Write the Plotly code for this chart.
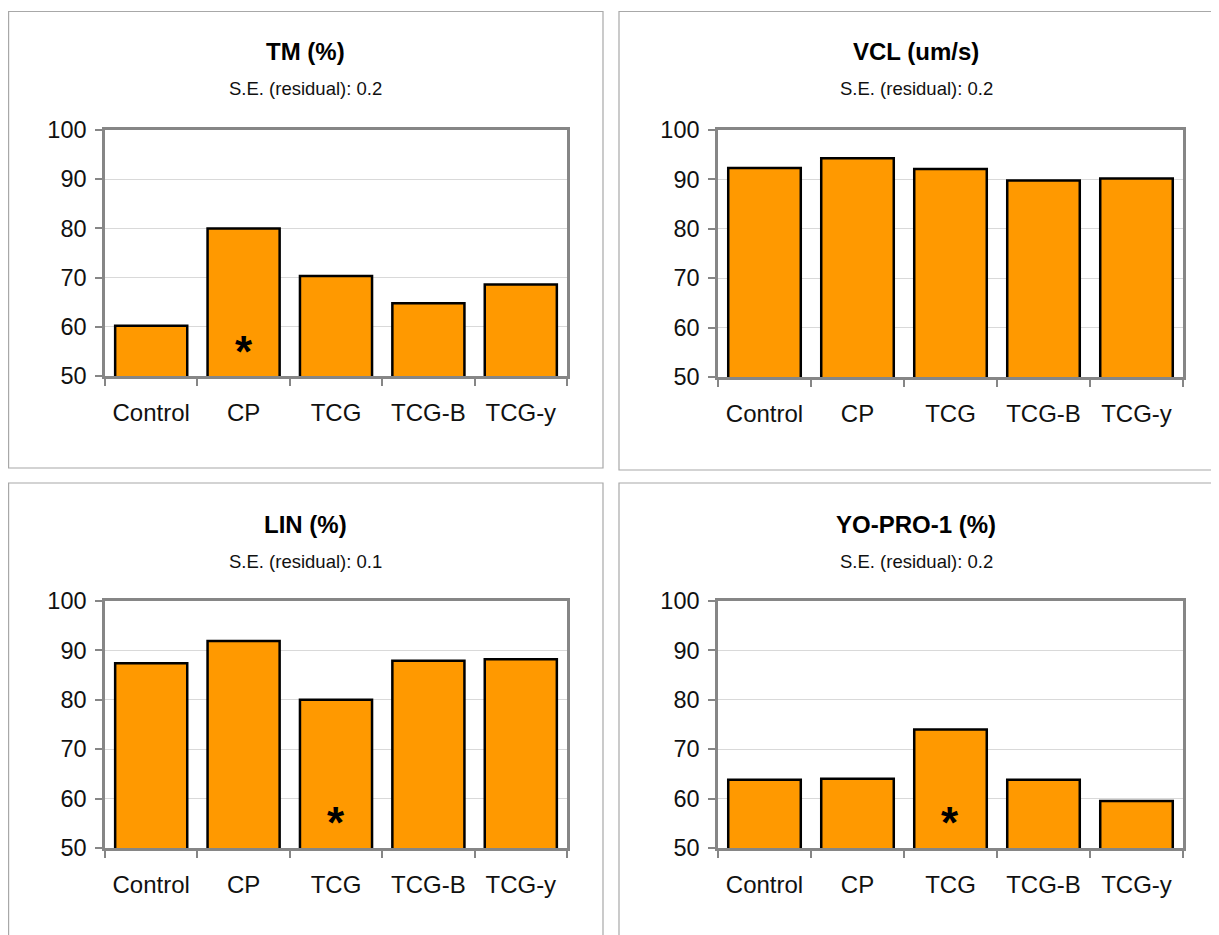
import plotly.graph_objects as go

# page pixels (reference) ; the html body adds an 8px margin
OFF = 8
W, H = 1219 - OFF, 935 - OFF

categories = ["Control", "CP", "TCG", "TCG-B", "TCG-y"]

tm_values = [60.2, 80.0, 70.3, 64.8, 68.6]
vcl_values = [92.3, 94.3, 92.1, 89.8, 90.2]
lin_values = [87.4, 91.9, 80.0, 87.9, 88.2]
yopro_values = [63.8, 64.0, 74.0, 63.8, 59.5]

titles = ["TM (%)", "VCL (um/s)", "LIN (%)", "YO-PRO-1 (%)"]
subtitles = ["S.E. (residual): 0.2", "S.E. (residual): 0.2",
             "S.E. (residual): 0.1", "S.E. (residual): 0.2"]
star_category = ["CP", None, "TCG", "TCG"]
star_value = 56.5

y_ticks = [50, 60, 70, 80, 90, 100]

series = [tm_values, vcl_values, lin_values, yopro_values]

# layout geometry (reference page pixels)
frames = [(8.6, 11.5, 603, 468), (619, 11.5, 1213, 470), (8.6, 483, 603, 950), (619, 483, 1213, 950)]
plots = [(105, 130, 567, 376), (718, 130, 1183, 377), (105, 601, 567, 848), (718, 601, 1183, 848)]
title_y = [52, 52, 524, 524]
sub_y = [89, 89, 561, 561]


def px(x):
    return (x - OFF) / W


def py(y):
    return 1 - (y - OFF) / H


FONT = "Liberation Sans, Arial, sans-serif"
ORANGE = "#FF9900"
FRAME = "#868686"
GRID = "#D9D9D9"

fig = go.Figure()
layout = dict(
    width=W, height=H, margin=dict(l=0, r=0, t=0, b=0, autoexpand=False),
    paper_bgcolor="white", plot_bgcolor="white", showlegend=False,
    font=dict(family=FONT, color="#111111"),
    bargap=0.22,
)
shapes = []
annotations = []

for i, vals in enumerate(series):
    xa = "x" if i == 0 else f"x{i+1}"
    ya = "y" if i == 0 else f"y{i+1}"
    fig.add_trace(go.Bar(
        x=categories, y=vals, xaxis=xa, yaxis=ya,
        marker=dict(color=ORANGE, line=dict(color="#000000", width=2.5)),
        hoverinfo="x+y",
    ))
    x0, y0, x1, y1 = plots[i]
    xkey = "xaxis" if i == 0 else f"xaxis{i+1}"
    ykey = "yaxis" if i == 0 else f"yaxis{i+1}"
    layout[xkey] = dict(
        domain=[px(x0), px(x1)], anchor=ya, automargin=False,
        type="category", tickson="boundaries",
        ticks="outside", ticklen=7, tickcolor=FRAME, tickwidth=1.5,
        showline=True, mirror=True, linecolor=FRAME, linewidth=2.5,
        showgrid=False, tickfont=dict(size=24, family=FONT, color="#111111"),
        ticklabelstandoff=13, fixedrange=True,
    )
    layout[ykey] = dict(
        domain=[py(y1), py(y0)], anchor=xa, automargin=False,
        range=[50, 100], tickvals=y_ticks,
        ticks="outside", ticklen=7, tickcolor=FRAME, tickwidth=1.5,
        showline=True, mirror=True, linecolor=FRAME, linewidth=2.5,
        showgrid=True, gridcolor=GRID, gridwidth=1,
        tickfont=dict(size=23.5, family=FONT, color="#111111"),
        ticklabelstandoff=4,
        zeroline=False, fixedrange=True,
    )
    fx0, fy0, fx1, fy1 = frames[i]
    shapes.append(dict(type="rect", xref="paper", yref="paper",
                       x0=px(fx0), x1=px(fx1), y0=py(fy1), y1=py(fy0),
                       line=dict(color="#A8A8A8", width=1.2), layer="below"))
    cx = px((fx0 + fx1) / 2)
    annotations.append(dict(text=f"<b>{titles[i]}</b>", xref="paper", yref="paper",
                            x=cx, y=py(title_y[i]), xanchor="center", yanchor="middle",
                            showarrow=False, font=dict(size=24, family=FONT, color="#000000")))
    annotations.append(dict(text=subtitles[i], xref="paper", yref="paper",
                            x=cx, y=py(sub_y[i]), xanchor="center", yanchor="middle",
                            showarrow=False, font=dict(size=18.5, family=FONT, color="#111111")))
    if star_category[i] is not None:
        annotations.append(dict(text="<b>*</b>", xref=xa, yref=ya,
                                x=star_category[i], y=star_value,
                                xanchor="center", yanchor="middle", showarrow=False,
                                yshift=-7,
                                font=dict(size=44, family=FONT, color="#000000")))

layout["shapes"] = shapes
layout["annotations"] = annotations
fig.update_layout(**layout)
fig.write_html("out.html")
